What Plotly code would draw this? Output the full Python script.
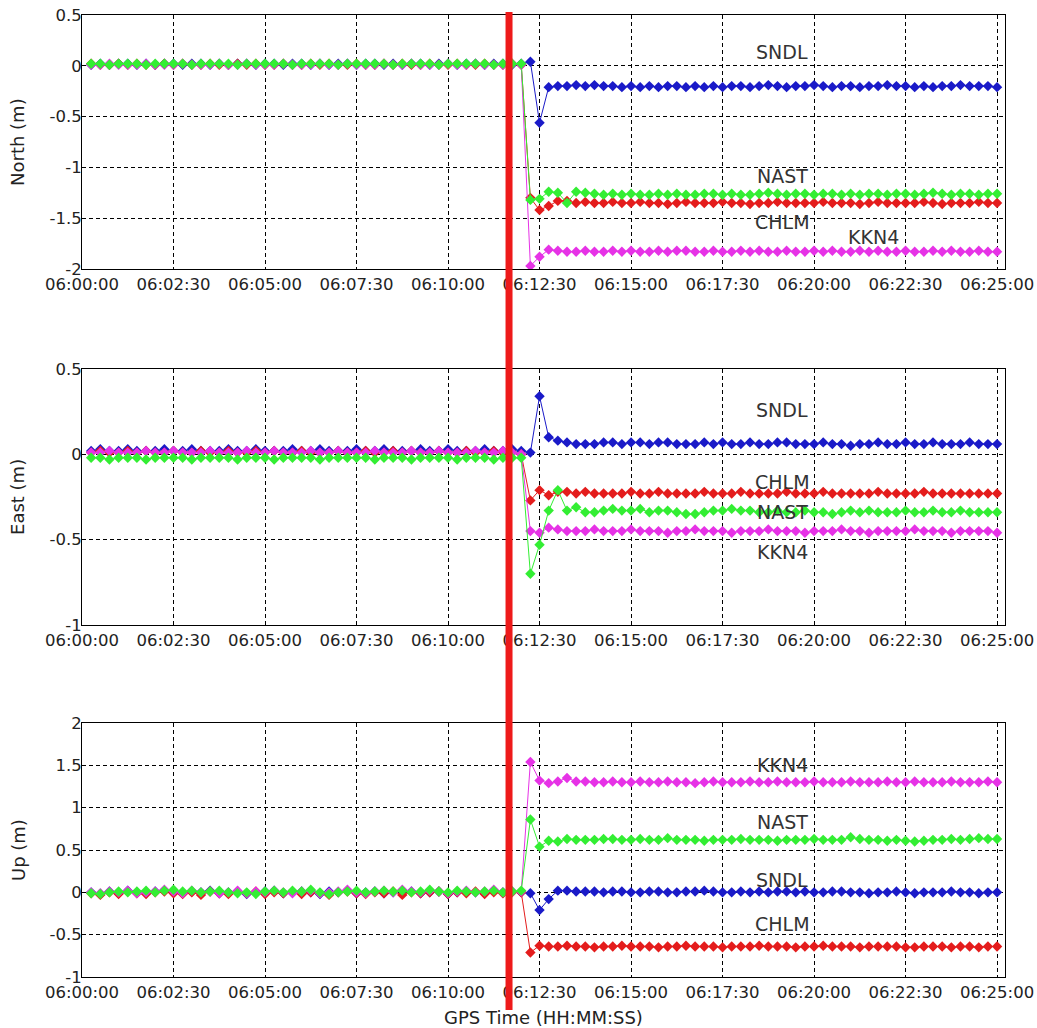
import pandas as pd
import plotly.graph_objects as go

# ---------------- data ----------------
times = pd.date_range("2020-01-01 06:00:15", periods=100, freq="15s")
event_time = "2020-01-01 06:11:40"
stations = ["SNDL", "CHLM", "KKN4", "NAST"]
colors = {"SNDL": "#1a1ac8", "CHLM": "#e41c1c", "KKN4": "#e632e6", "NAST": "#33ee33"}

# North (m)
N_SNDL = [0.01,0.02,0.01,0.02,0.02,0.01,0.02,0.01,0.02,0.02,
          0.01,0.02,0.02,0.01,0.02,0.01,0.02,0.02,0.01,0.02,
          0.02,0.01,0.02,0.02,0.01,0.02,0.01,0.02,0.02,0.01,
          0.02,0.02,0.01,0.02,0.01,0.02,0.02,0.01,0.02,0.02,
          0.01,0.02,0.02,0.01,0.02,0.02,0.01,0.02,
          0.04,-0.56,-0.21,-0.20,-0.20,-0.19,-0.20,-0.19,-0.20,-0.20,
          -0.21,-0.20,-0.21,-0.20,-0.21,-0.20,-0.20,-0.21,-0.20,-0.21,
          -0.20,-0.21,-0.20,-0.20,-0.21,-0.20,-0.19,-0.20,-0.21,-0.20,
          -0.20,-0.19,-0.20,-0.21,-0.20,-0.20,-0.21,-0.20,-0.20,-0.19,
          -0.20,-0.20,-0.21,-0.20,-0.21,-0.20,-0.20,-0.19,-0.20,-0.20,
          -0.20,-0.21]
N_CHLM = [0.02,0.01,0.01,0.02,0.01,0.02,0.01,0.01,0.02,0.01,
          0.02,0.01,0.01,0.02,0.01,0.01,0.02,0.01,0.02,0.01,
          0.01,0.02,0.01,0.01,0.02,0.01,0.02,0.01,0.01,0.02,
          0.01,0.01,0.02,0.01,0.02,0.01,0.01,0.02,0.01,0.01,
          0.02,0.01,0.01,0.02,0.01,0.01,0.02,0.01,
          -1.30,-1.42,-1.38,-1.33,-1.33,-1.35,-1.34,-1.35,-1.35,-1.34,
          -1.35,-1.35,-1.34,-1.35,-1.35,-1.36,-1.35,-1.34,-1.35,-1.35,
          -1.35,-1.34,-1.35,-1.35,-1.36,-1.35,-1.35,-1.34,-1.35,-1.35,
          -1.35,-1.35,-1.34,-1.35,-1.35,-1.35,-1.36,-1.35,-1.34,-1.35,
          -1.35,-1.35,-1.35,-1.34,-1.35,-1.36,-1.35,-1.35,-1.35,-1.34,
          -1.35,-1.35]
N_KKN4 = [0.01,0.01,0.02,0.01,0.01,0.01,0.02,0.01,0.01,0.01,
          0.02,0.01,0.01,0.01,0.02,0.01,0.01,0.02,0.01,0.01,
          0.01,0.02,0.01,0.01,0.01,0.02,0.01,0.01,0.02,0.01,
          0.01,0.01,0.02,0.01,0.01,0.02,0.01,0.01,0.01,0.02,
          0.01,0.01,0.02,0.01,0.01,0.01,0.02,0.01,
          -1.97,-1.88,-1.81,-1.82,-1.83,-1.83,-1.82,-1.83,-1.83,-1.82,
          -1.83,-1.82,-1.83,-1.83,-1.82,-1.83,-1.82,-1.82,-1.83,-1.83,
          -1.82,-1.83,-1.83,-1.82,-1.83,-1.82,-1.83,-1.83,-1.82,-1.83,
          -1.83,-1.82,-1.83,-1.82,-1.83,-1.83,-1.82,-1.83,-1.82,-1.83,
          -1.83,-1.82,-1.83,-1.83,-1.82,-1.83,-1.82,-1.83,-1.83,-1.82,
          -1.83,-1.83]
N_NAST = [0.02,0.02,0.01,0.02,0.02,0.02,0.01,0.02,0.02,0.02,
          0.02,0.01,0.02,0.02,0.02,0.02,0.01,0.02,0.02,0.02,
          0.02,0.02,0.01,0.02,0.02,0.02,0.02,0.01,0.02,0.02,
          0.02,0.02,0.02,0.01,0.02,0.02,0.02,0.02,0.01,0.02,
          0.02,0.02,0.02,0.02,0.01,0.02,0.02,0.02,
          -1.32,-1.31,-1.24,-1.25,-1.35,-1.24,-1.25,-1.26,-1.27,-1.26,
          -1.27,-1.26,-1.27,-1.27,-1.26,-1.27,-1.26,-1.27,-1.27,-1.26,
          -1.26,-1.27,-1.26,-1.27,-1.27,-1.26,-1.25,-1.26,-1.27,-1.26,
          -1.26,-1.27,-1.26,-1.26,-1.27,-1.26,-1.27,-1.26,-1.26,-1.27,
          -1.26,-1.26,-1.27,-1.26,-1.25,-1.26,-1.27,-1.26,-1.26,-1.27,
          -1.26,-1.26]

# East (m)
E_SNDL = [0.02,0.03,0.02,0.02,0.03,0.02,0.02,0.02,0.03,0.02,
          0.02,0.03,0.02,0.02,0.02,0.03,0.02,0.02,0.03,0.02,
          0.02,0.02,0.03,0.02,0.02,0.03,0.02,0.02,0.02,0.03,
          0.02,0.02,0.03,0.02,0.02,0.02,0.03,0.02,0.02,0.03,
          0.02,0.02,0.02,0.03,0.02,0.02,0.03,0.02,
          0.01,0.34,0.10,0.08,0.07,0.06,0.06,0.06,0.07,0.07,
          0.06,0.07,0.07,0.06,0.07,0.07,0.06,0.06,0.06,0.07,
          0.06,0.07,0.06,0.06,0.07,0.06,0.06,0.07,0.07,0.06,
          0.06,0.06,0.07,0.06,0.06,0.05,0.06,0.06,0.07,0.06,
          0.06,0.07,0.06,0.06,0.07,0.06,0.06,0.06,0.07,0.06,
          0.06,0.06]
E_CHLM = [0.01,0.02,0.01,0.01,0.02,0.01,0.02,0.01,0.01,0.02,
          0.01,0.01,0.02,0.01,0.01,0.02,0.01,0.01,0.02,0.01,
          0.02,0.01,0.01,0.02,0.01,0.01,0.01,0.02,0.01,0.01,
          0.02,0.01,0.01,0.02,0.01,0.02,0.01,0.01,0.02,0.01,
          0.01,0.02,0.01,0.01,0.02,0.01,0.01,0.00,
          -0.27,-0.21,-0.24,-0.22,-0.22,-0.23,-0.22,-0.23,-0.23,-0.23,
          -0.23,-0.22,-0.23,-0.23,-0.22,-0.23,-0.23,-0.23,-0.23,-0.22,
          -0.23,-0.23,-0.23,-0.22,-0.23,-0.23,-0.23,-0.23,-0.22,-0.23,
          -0.23,-0.23,-0.22,-0.23,-0.23,-0.23,-0.23,-0.23,-0.22,-0.23,
          -0.23,-0.23,-0.23,-0.22,-0.23,-0.23,-0.23,-0.23,-0.23,-0.23,
          -0.23,-0.23]
E_KKN4 = [0.01,0.01,0.02,0.01,0.01,0.01,0.02,0.01,0.01,0.02,
          0.01,0.01,0.01,0.02,0.01,0.01,0.01,0.02,0.01,0.01,
          0.02,0.01,0.01,0.01,0.02,0.01,0.01,0.02,0.01,0.01,
          0.01,0.02,0.01,0.01,0.01,0.02,0.01,0.01,0.02,0.01,
          0.01,0.01,0.02,0.01,0.01,0.02,0.01,0.00,
          -0.45,-0.46,-0.43,-0.44,-0.45,-0.45,-0.45,-0.44,-0.45,-0.45,
          -0.45,-0.44,-0.45,-0.45,-0.45,-0.46,-0.45,-0.45,-0.44,-0.45,
          -0.45,-0.45,-0.46,-0.45,-0.45,-0.45,-0.44,-0.45,-0.45,-0.45,
          -0.46,-0.45,-0.45,-0.45,-0.44,-0.45,-0.45,-0.46,-0.45,-0.45,
          -0.45,-0.45,-0.44,-0.45,-0.45,-0.45,-0.46,-0.45,-0.45,-0.45,
          -0.45,-0.46]
E_NAST = [-0.02,-0.02,-0.03,-0.02,-0.02,-0.02,-0.03,-0.02,-0.02,-0.02,
          -0.02,-0.03,-0.02,-0.02,-0.02,-0.02,-0.03,-0.02,-0.02,-0.02,
          -0.03,-0.02,-0.02,-0.02,-0.02,-0.03,-0.02,-0.02,-0.02,-0.02,
          -0.02,-0.03,-0.02,-0.02,-0.02,-0.03,-0.02,-0.02,-0.02,-0.02,
          -0.03,-0.02,-0.02,-0.02,-0.03,-0.02,-0.02,-0.02,
          -0.70,-0.53,-0.33,-0.21,-0.33,-0.31,-0.34,-0.34,-0.33,-0.32,
          -0.33,-0.33,-0.32,-0.34,-0.33,-0.33,-0.34,-0.35,-0.35,-0.34,
          -0.33,-0.33,-0.32,-0.33,-0.33,-0.34,-0.34,-0.33,-0.34,-0.34,
          -0.33,-0.34,-0.34,-0.35,-0.34,-0.33,-0.34,-0.33,-0.34,-0.34,
          -0.34,-0.33,-0.34,-0.34,-0.33,-0.34,-0.34,-0.33,-0.34,-0.34,
          -0.34,-0.34]

# Up (m)
U_SNDL = [0.00,-0.02,0.01,-0.01,0.02,0.00,-0.01,0.01,0.02,0.00,
          -0.01,0.01,0.00,0.02,-0.01,0.00,0.01,-0.02,0.00,0.01,
          0.02,-0.01,0.00,0.01,0.00,-0.02,0.01,0.00,0.02,-0.01,
          0.00,0.01,-0.01,0.00,0.02,0.01,-0.01,0.00,0.01,-0.02,
          0.00,0.01,0.00,-0.01,0.02,0.00,0.01,0.00,
          -0.01,-0.21,-0.08,0.02,0.02,0.01,0.01,0.01,0.00,0.01,
          0.01,0.00,0.00,0.01,0.01,0.00,0.00,0.01,0.01,0.02,
          0.01,0.00,0.00,0.01,0.00,0.01,0.00,0.01,0.01,0.00,
          0.01,0.00,0.00,0.01,0.01,0.00,0.00,-0.01,0.00,0.00,
          0.01,0.00,-0.01,0.00,0.00,0.00,0.01,0.00,0.00,-0.01,
          0.00,0.00]
U_CHLM = [-0.01,-0.03,0.00,-0.02,0.01,-0.01,-0.02,0.00,0.01,-0.01,
          -0.02,0.00,-0.03,0.01,-0.01,-0.02,0.00,-0.01,0.01,-0.02,
          0.00,-0.01,0.01,-0.02,0.00,-0.01,-0.03,0.00,0.01,-0.01,
          -0.02,0.00,-0.01,0.01,-0.03,0.00,-0.01,0.00,0.01,-0.02,
          0.00,-0.01,0.01,-0.02,0.00,-0.01,0.00,0.00,
          -0.71,-0.63,-0.64,-0.64,-0.63,-0.64,-0.64,-0.65,-0.64,-0.64,
          -0.63,-0.64,-0.64,-0.64,-0.65,-0.64,-0.64,-0.63,-0.64,-0.64,
          -0.64,-0.65,-0.64,-0.64,-0.64,-0.63,-0.64,-0.64,-0.64,-0.65,
          -0.64,-0.64,-0.63,-0.64,-0.64,-0.64,-0.65,-0.64,-0.64,-0.64,
          -0.64,-0.65,-0.65,-0.64,-0.64,-0.64,-0.65,-0.64,-0.64,-0.65,
          -0.64,-0.64]
U_KKN4 = [0.00,-0.01,0.01,0.00,0.02,-0.01,0.00,0.01,0.03,0.01,
          -0.01,0.02,0.00,0.01,-0.01,0.00,0.02,-0.01,0.01,0.00,
          0.02,0.00,-0.01,0.01,0.02,-0.01,0.00,0.01,0.03,0.00,
          -0.01,0.01,0.02,0.00,0.03,0.01,0.00,0.02,0.01,-0.01,
          0.01,0.02,0.00,0.01,0.03,0.00,0.01,0.01,
          1.54,1.32,1.29,1.31,1.35,1.31,1.31,1.30,1.30,1.31,
          1.30,1.30,1.31,1.30,1.30,1.31,1.30,1.30,1.29,1.30,
          1.31,1.30,1.30,1.30,1.31,1.30,1.30,1.31,1.30,1.30,
          1.30,1.31,1.30,1.30,1.30,1.31,1.30,1.30,1.30,1.31,
          1.30,1.30,1.31,1.30,1.30,1.30,1.31,1.30,1.30,1.30,
          1.31,1.30]
U_NAST = [-0.01,-0.02,0.00,0.01,0.00,0.01,0.02,0.00,0.02,0.03,
          0.01,0.02,0.00,0.01,0.02,0.00,-0.01,0.00,-0.02,0.01,
          0.02,0.00,0.02,0.01,0.03,0.00,-0.02,0.00,0.01,0.02,
          0.00,0.01,0.02,0.01,0.02,0.00,0.01,0.03,0.01,0.00,
          0.02,0.01,0.00,0.01,0.02,0.00,0.01,0.02,
          0.86,0.54,0.61,0.60,0.63,0.62,0.62,0.62,0.63,0.63,
          0.62,0.62,0.63,0.62,0.62,0.64,0.62,0.62,0.62,0.61,
          0.62,0.62,0.62,0.63,0.62,0.62,0.62,0.61,0.62,0.62,
          0.62,0.63,0.62,0.62,0.62,0.65,0.63,0.62,0.62,0.61,
          0.62,0.61,0.60,0.61,0.62,0.62,0.63,0.62,0.63,0.64,
          0.63,0.63]

north = {"SNDL": N_SNDL, "CHLM": N_CHLM, "KKN4": N_KKN4, "NAST": N_NAST}
east = {"SNDL": E_SNDL, "CHLM": E_CHLM, "KKN4": E_KKN4, "NAST": E_NAST}
up = {"SNDL": U_SNDL, "CHLM": U_CHLM, "KKN4": U_KKN4, "NAST": U_NAST}
components = [("North (m)", north), ("East (m)", east), ("Up (m)", up)]
for _, comp in components:
    for k, v in comp.items():
        assert len(v) == 100, (k, len(v))

y_ranges = [(-2, 0.5), (-1, 0.5), (-1, 2)]
y_ticks = [[-2, -1.5, -1, -0.5, 0, 0.5], [-1, -0.5, 0, 0.5], [-1, -0.5, 0, 0.5, 1, 1.5, 2]]
x_tick_labels = ["06:00:00", "06:02:30", "06:05:00", "06:07:30", "06:10:00", "06:12:30",
                 "06:15:00", "06:17:30", "06:20:00", "06:22:30", "06:25:00"]
x_title = "GPS Time (HH:MM:SS)"

# label positions (station, time, value) per panel
labels = [
    [("SNDL", "06:19:08", 0.14), ("NAST", "06:19:08", -1.08), ("CHLM", "06:19:08", -1.54), ("KKN4", "06:21:37", -1.69)],
    [("SNDL", "06:19:08", 0.26), ("CHLM", "06:19:08", -0.16), ("NAST", "06:19:08", -0.34), ("KKN4", "06:19:08", -0.57)],
    [("KKN4", "06:19:08", 1.50), ("NAST", "06:19:08", 0.83), ("SNDL", "06:19:08", 0.14), ("CHLM", "06:19:08", -0.37)],
]

# ---------------- figure ----------------
FONT = "DejaVu Sans"
TXT = "#222222"
W, H = 1037, 1028
ML, MR, MT, MB = 82, 32, 15, 51
PW, PH = W - ML - MR, H - MT - MB
domains = [(0.736, 1.0), (0.366, 0.632), (0.0, 0.264)]
fig = go.Figure()
draw_order = ["SNDL", "CHLM", "KKN4", "NAST"]

for i, (title, comp) in enumerate(components):
    xa = "x" if i == 0 else f"x{i+1}"
    ya = "y" if i == 0 else f"y{i+1}"
    for st in draw_order:
        fig.add_trace(go.Scatter(
            x=times, y=comp[st], mode="lines+markers", name=st, showlegend=False,
            line=dict(color=colors[st], width=1),
            marker=dict(symbol="diamond", size=8, color=colors[st]),
            xaxis=xa, yaxis=ya))
    for st, t, v in labels[i]:
        fig.add_annotation(x=f"2020-01-01 {t}", y=v, xref=xa, yref=ya, text=st,
                           showarrow=False, font=dict(family=FONT, size=19, color="#333333"))
    # y-axis title (rotated), centred on the panel
    fig.add_annotation(x=(18 - ML) / PW, y=sum(domains[i]) / 2, xref="paper", yref="paper",
                       text=title, textangle=-90, showarrow=False,
                       xanchor="center", yanchor="middle",
                       font=dict(family=FONT, size=18, color=TXT))

    axis_common = dict(showline=True, linecolor="black", linewidth=1, mirror=True,
                       showgrid=True, gridcolor="black", gridwidth=1, griddash="4px,3px",
                       zeroline=False, ticks="", ticklabeloverflow="allow",
                       tickfont=dict(family=FONT, size=16.5, color=TXT))
    xkey = "xaxis" if i == 0 else f"xaxis{i+1}"
    ykey = "yaxis" if i == 0 else f"yaxis{i+1}"
    fig.update_layout(**{
        xkey: dict(axis_common, domain=[0, 1], anchor=ya, type="date",
                   range=["2020-01-01 06:00:00", "2020-01-01 06:25:13"],
                   tickvals=[f"2020-01-01 {s}" for s in x_tick_labels],
                   ticktext=x_tick_labels),
        ykey: dict(axis_common, domain=list(domains[i]), anchor=xa, range=list(y_ranges[i]),
                   tickvals=y_ticks[i],
                   ticktext=[("%g" % v) for v in y_ticks[i]],
                   ticklabelstandoff=-4),
    })

# x-axis title under the bottom panel
fig.add_annotation(x=0.5, y=(977 - 1017) / PH, xref="paper", yref="paper", text=x_title,
                   showarrow=False, xanchor="center", yanchor="middle",
                   font=dict(family=FONT, size=18, color=TXT))

fig.add_shape(type="line", xref="x", yref="paper", x0=event_time, x1=event_time,
              y0=(977 - 1010) / PH, y1=(977 - 12) / PH,
              line=dict(color="#ee1a1a", width=7), layer="above")

fig.update_layout(width=W, height=H, paper_bgcolor="white", plot_bgcolor="white",
                  margin=dict(l=ML, r=MR, t=MT, b=MB, autoexpand=False),
                  font=dict(family=FONT, size=17, color=TXT))

# remove the default 8px page margin so the figure fills the window exactly
fig.write_html("out.html", config={"displayModeBar": False},
               post_script="document.body.style.margin='0';document.body.style.overflow='hidden';")
